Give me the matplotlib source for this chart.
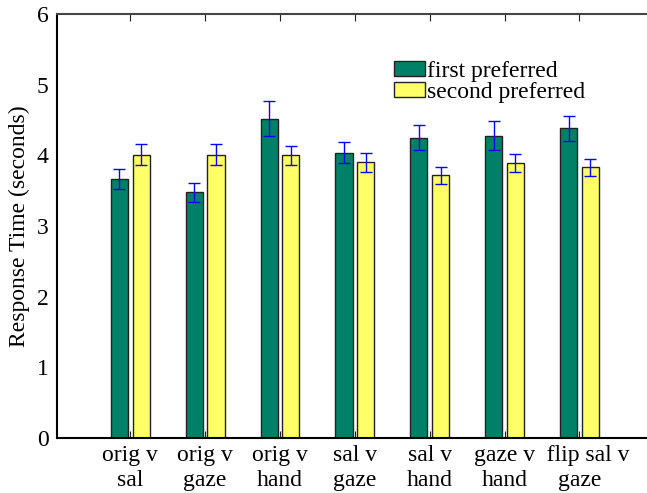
import numpy as np
import matplotlib
matplotlib.use("Agg")
import matplotlib.pyplot as plt

plt.rcParams["font.family"] = ["Liberation Serif", "DejaVu Serif"]

# 数据
categories = ["orig v\nsal", "orig v\ngaze", "orig v\nhand", "sal v\ngaze",
              "sal v\nhand", "gaze v\nhand", "   flip sal v\ngaze"]
first_pref = [3.66, 3.48, 4.52, 4.04, 4.25, 4.28, 4.38]
first_err = [0.14, 0.135, 0.245, 0.15, 0.18, 0.20, 0.18]
second_pref = [4.01, 4.01, 4.00, 3.90, 3.72, 3.89, 3.83]
second_err = [0.145, 0.145, 0.13, 0.14, 0.12, 0.125, 0.12]

green = "#008066"
yellow = "#ffff66"

fig = plt.figure(figsize=(6.47, 4.93), dpi=100)
ax = fig.add_axes([0.088, 0.1116, 0.914, 0.86])

x = np.arange(1, len(categories) + 1)
w = 0.23
off = 0.145

ax.bar(x - off, first_pref, w, color=green, edgecolor="#222222", linewidth=1,
       label="first preferred", zorder=2)
ax.bar(x + off, second_pref, w, color=yellow, edgecolor="#222222", linewidth=1,
       label="second preferred", zorder=2)
ax.errorbar(x - off, first_pref, yerr=first_err, fmt="none", ecolor="#0000ff",
            elinewidth=1, capsize=4.5, capthick=1, zorder=3)
ax.errorbar(x + off, second_pref, yerr=second_err, fmt="none", ecolor="#0000ff",
            elinewidth=1, capsize=4.5, capthick=1, zorder=3)

ax.set_xlim(0.02, 7.92)
ax.set_ylim(0, 6)
ax.set_xticks(x)
ax.set_xticklabels(categories, fontsize=17, linespacing=1.25)
ax.set_yticks(range(0, 7))
ax.tick_params(axis="y", labelsize=17, length=0, pad=6)
ax.tick_params(axis="x", direction="in", length=5, top=True, pad=5,
               color="#222222")
ax.set_ylabel("Response Time (seconds)", fontsize=17, labelpad=5)

for side in ["left", "bottom"]:
    ax.spines[side].set_linewidth(1.5)
    ax.spines[side].set_color("black")
ax.spines["top"].set_linewidth(1.5)
ax.spines["top"].set_color("#444444")
ax.spines["right"].set_visible(False)

ax.legend(loc="upper left", bbox_to_anchor=(0.57, 0.89), frameon=False,
          fontsize=17, handlelength=1.3, handleheight=0.6, handletextpad=0.1,
          labelspacing=0, borderpad=0, borderaxespad=0)

plt.savefig("out.png", dpi=100)
